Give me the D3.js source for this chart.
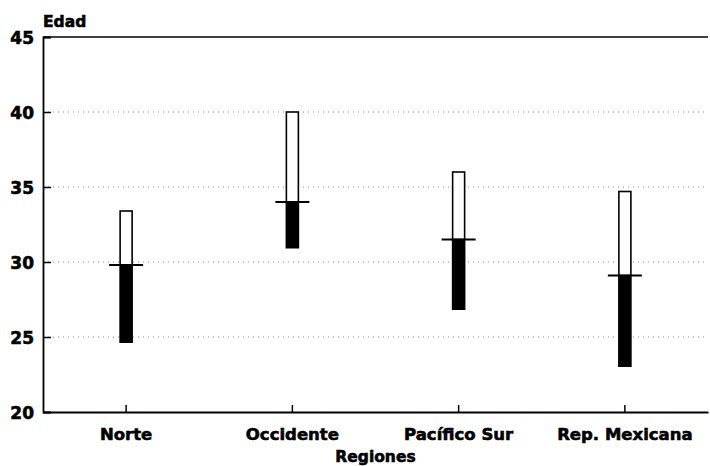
<!DOCTYPE html>
<html><head><meta charset="utf-8">
<script src="https://cdn.jsdelivr.net/npm/d3@7"></script>
<style>body{margin:0;background:#fff}</style>
</head><body>
<svg id="c" width="710" height="466"></svg>
<script>
const categories = ["Norte", "Occidente", "Pacífico Sur", "Rep. Mexicana"];
const highValues = [33.4, 40.0, 36.0, 34.7];
const medianValues = [29.8, 34.0, 31.5, 29.1];
const lowValues = [24.6, 30.9, 26.8, 23.0];
const yTicks = [20, 25, 30, 35, 40, 45];
const yTitle = "Edad";
const xTitle = "Regiones";

const svg = d3.select("#c");
const m = {l: 43, r: 2, t: 37, b: 54};
const W = 710, H = 466;
const x = d3.scaleBand().domain(categories).range([m.l, W - m.r]);
const y = d3.scaleLinear().domain([20, 45]).range([H - m.b, m.t]);
const font = "'DejaVu Sans', sans-serif";

function heavy(sel, size) {
  sel.attr("font-family", font).attr("font-weight", "bold").attr("font-size", size)
    .attr("fill", "#000").attr("stroke", "#000").attr("stroke-width", 0.6);
}

// gridlines
svg.append("g").selectAll("line").data(yTicks.filter(t => t > 20 && t < 45)).join("line")
  .attr("x1", m.l).attr("x2", W - m.r)
  .attr("y1", d => y(d)).attr("y2", d => y(d))
  .attr("stroke", "#8a8a8a").attr("stroke-width", 1).attr("stroke-dasharray", "1 4");

// top line
svg.append("line").attr("x1", m.l).attr("x2", W - m.r).attr("y1", y(45)).attr("y2", y(45))
  .attr("stroke", "#000").attr("stroke-width", 1.5);

// y axis
const yAxis = svg.append("g").attr("transform", `translate(${m.l},0)`)
  .call(d3.axisLeft(y).tickValues(yTicks).tickSize(-8).tickPadding(9));
yAxis.select(".domain").attr("stroke-width", 1.8);
yAxis.selectAll(".tick line").attr("stroke-width", 1.5);
heavy(yAxis.selectAll("text"), 17);
yAxis.selectAll("text").attr("dy", "0.36em");

// x axis
const xAxis = svg.append("g").attr("transform", `translate(0,${H - m.b})`)
  .call(d3.axisBottom(x).tickSize(-7).tickPadding(16).tickSizeOuter(0));
xAxis.select(".domain").attr("stroke-width", 1.8);
xAxis.selectAll(".tick line").attr("stroke-width", 1.5);
heavy(xAxis.selectAll("text"), 16.5);

// titles
heavy(svg.append("text").attr("x", m.l).attr("y", 27).text(yTitle), 15.5);
heavy(svg.append("text").attr("x", (m.l + W - m.r) / 2).attr("y", 462)
  .attr("text-anchor", "middle").text(xTitle), 15.5);

// bars
const bw = 12, mw = 34;
const g = svg.append("g");
categories.forEach((c, i) => {
  const cx = x(c) + x.bandwidth() / 2;
  g.append("rect").attr("x", cx - bw / 2).attr("y", y(highValues[i]))
    .attr("width", bw).attr("height", y(medianValues[i]) - y(highValues[i]))
    .attr("fill", "#fff").attr("stroke", "#000").attr("stroke-width", 1.6);
  g.append("rect").attr("x", cx - bw / 2 - 0.8).attr("y", y(medianValues[i]))
    .attr("width", bw + 1.6).attr("height", y(lowValues[i]) - y(medianValues[i]))
    .attr("fill", "#000");
  g.append("line").attr("x1", cx - mw / 2).attr("x2", cx + mw / 2)
    .attr("y1", y(medianValues[i])).attr("y2", y(medianValues[i]))
    .attr("stroke", "#000").attr("stroke-width", 1.8);
});
</script>
</body></html>
